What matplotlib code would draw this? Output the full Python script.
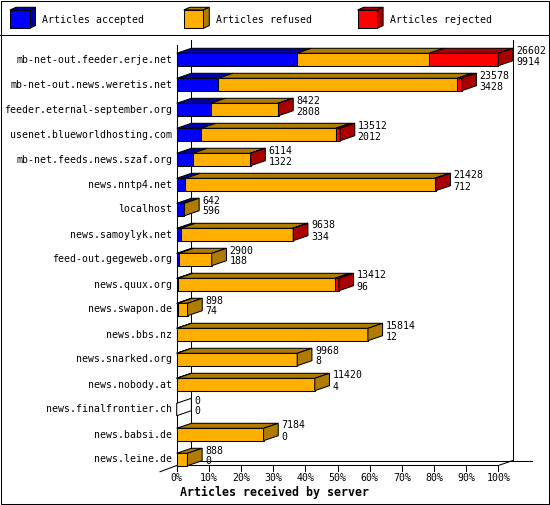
import matplotlib
matplotlib.use("Agg")
import matplotlib.pyplot as plt
from matplotlib.patches import Polygon, Rectangle

servers = [
    "mb-net-out.feeder.erje.net",
    "mb-net-out.news.weretis.net",
    "feeder.eternal-september.org",
    "usenet.blueworldhosting.com",
    "mb-net.feeds.news.szaf.org",
    "news.nntp4.net",
    "localhost",
    "news.samoylyk.net",
    "feed-out.gegeweb.org",
    "news.quux.org",
    "news.swapon.de",
    "news.bbs.nz",
    "news.snarked.org",
    "news.nobody.at",
    "news.finalfrontier.ch",
    "news.babsi.de",
    "news.leine.de",
]
offered = [26602, 23578, 8422, 13512, 6114, 21428, 642, 9638, 2900, 13412,
           898, 15814, 9968, 11420, 0, 7184, 888]
accepted = [9914, 3428, 2808, 2012, 1322, 712, 596, 334, 188, 96,
            74, 12, 8, 4, 0, 0, 0]
rejected = [5730, 390, 40, 360, 20, 80, 0, 50, 0, 330,
            0, 0, 0, 0, 0, 0, 0]
refused = [o - a - r for o, a, r in zip(offered, accepted, rejected)]
pct_ticks = list(range(0, 101, 10))

legend_labels = ["Articles accepted", "Articles refused", "Articles rejected"]
front_colors = ["#0000ff", "#ffaf00", "#ff0000"]
shade_colors = ["#0000aa", "#b07c00", "#aa0000"]

plt.rcParams["font.family"] = ["DejaVu Sans Mono"]
FS = 7.1
LW = 0.75

W, H = 550, 505
fig = plt.figure(figsize=(5.5, 5.05), dpi=100)

# pixel layer for frame, legend and title
bg = fig.add_axes([0, 0, 1, 1])
bg.set_xlim(0, W)
bg.set_ylim(H, 0)
bg.axis("off")
bg.add_patch(Rectangle((0.5, 0.5), W - 1.5, H - 1.5, fc="none", ec="black", lw=LW))
bg.plot([0, W], [35, 35], color="black", lw=LW)

for k, lab in enumerate(legend_labels):
    x0 = 10 + k * 173.8
    bg.add_patch(Polygon([(x0, 10), (x0 + 19.5, 10), (x0 + 25.5, 7.3), (x0 + 6, 7.3)],
                         fc=shade_colors[k], ec="black", lw=LW))
    bg.add_patch(Polygon([(x0 + 19.5, 10), (x0 + 19.5, 28.3), (x0 + 25.5, 25.6), (x0 + 25.5, 7.3)],
                         fc=shade_colors[k], ec="black", lw=LW))
    bg.add_patch(Rectangle((x0, 10), 19.5, 18.3, fc=front_colors[k], ec="black", lw=LW))
    bg.text(x0 + 32.5, 20, lab, fontsize=FS, ha="left", va="center")

bg.text(180, 492, "Articles received by server", fontsize=8.4, fontweight="bold",
        ha="left", va="center")

# plot area: x in percent of the biggest server, y in rows
px_left, px_right = 176.7, 498.3
row0, row_h = 59.5, 25.0
n = len(servers)
ppp = (px_right - px_left) / 100.0
bottom_px = row0 + row_h * (n - 0.5)
ax = fig.add_axes([px_left / W, (H - bottom_px) / H, (px_right - px_left) / W, row_h * n / H])
ax.set_xlim(0, 100)
ax.set_ylim(n - 0.5, -0.5)
ax.axis("off")

dx = 14.7 / ppp
dy = 5.0 / row_h
half = 6.2 / row_h
floor = (465.5 - row0) / row_h


def line(xs, ys, z=1):
    ax.plot(xs, ys, color="black", lw=LW, clip_on=False, zorder=z)


top_row = (40 - row0) / row_h
line([dx, dx], [top_row, floor - dy], 0)
line([100 + dx, 100 + dx], [top_row, floor - dy], 0)
line([0, 0], [(45 - row0) / row_h, floor], 0)
line([0, 100], [floor, floor], 0)
line([100, 100 + dx], [floor, floor - dy], 0)
line([dx, 100 + dx + 18.5 / ppp], [floor - dy, floor - dy], 0)
line([0, -16.7 / ppp], [floor, floor + dy * 1.25], 0)
for t in pct_ticks:
    line([t, t], [floor, floor + 5.5 / row_h], 0)
    ax.text(t, (478 - row0) / row_h, f"{t}%", fontsize=FS, ha="center", va="center")

scale = 100.0 / max(offered)
for i in range(n):
    parts = [accepted[i], refused[i], rejected[i]]
    left = 0.0
    last = None
    top = i - half
    for k, v in enumerate(parts):
        if v <= 0:
            continue
        w = v * scale
        ax.barh(i, w, left=left, height=2 * half, color=front_colors[k],
                edgecolor="black", linewidth=LW, clip_on=False, zorder=3)
        ax.add_patch(Polygon([(left, top), (left + w, top), (left + w + dx, top - dy), (left + dx, top - dy)],
                             fc=shade_colors[k], ec="black", lw=LW, clip_on=False, zorder=3))
        left += w
        last = k
    side = shade_colors[last] if last is not None else "white"
    ax.add_patch(Polygon([(left, i - half), (left, i + half), (left + dx, i + half - dy), (left + dx, i - half - dy)],
                         fc=side, ec="black", lw=LW, clip_on=False, zorder=3))
    tx = left + dx + 3 / ppp
    ax.text(tx, i - 9 / row_h, str(offered[i]), fontsize=FS, ha="left", va="center")
    ax.text(tx, i + 2 / row_h, str(accepted[i]), fontsize=FS, ha="left", va="center")
    ax.text(-1.46, i, servers[i], fontsize=FS, ha="right", va="center")

fig.savefig("out.png", dpi=100)
